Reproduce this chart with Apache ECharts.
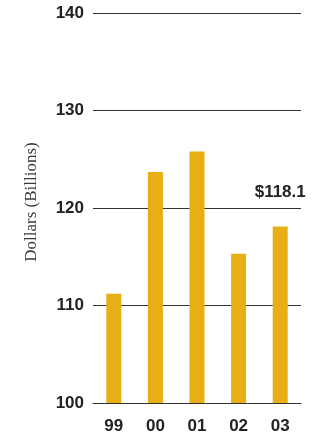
<!DOCTYPE html>
<html>
<head>
<meta charset="utf-8">
<script src="https://cdn.jsdelivr.net/npm/echarts@6/dist/echarts.min.js"></script>
<style>
  html, body { margin: 0; padding: 0; background: #fff; }
  #chart { width: 326px; height: 433px; }
</style>
</head>
<body>
<div id="chart"></div>
<script>
// Annual totals, in billions of dollars
const years = ['99', '00', '01', '02', '03'];
const totals = [111.2, 123.7, 125.8, 115.3, 118.1];
const yTicks = [100, 110, 120, 130, 140];
const yTitle = 'Dollars (Billions)';

const gold = '#E8AF14';
const ink = '#222222';
const numFont = '"Liberation Sans", Arial, Helvetica, sans-serif';

const chart = echarts.init(document.getElementById('chart'), null, { renderer: 'canvas' });

chart.setOption({
  animation: false,
  backgroundColor: '#ffffff',
  grid: { left: 93, right: 25, top: 13, bottom: 30, containLabel: false, outerBoundsMode: 'none' },
  xAxis: {
    type: 'category',
    data: years,
    axisLine: { show: true, lineStyle: { color: '#333', width: 1 } },
    axisTick: { show: false },
    axisLabel: {
      color: ink, fontFamily: numFont, fontWeight: 'bold', fontSize: 17, margin: 15
    }
  },
  yAxis: {
    type: 'value',
    min: yTicks[0],
    max: yTicks[yTicks.length - 1],
    interval: 10,
    name: yTitle,
    nameLocation: 'middle',
    nameRotate: 90,
    nameGap: 53,
    nameTextStyle: {
      color: '#3a3a3a', fontFamily: '"Liberation Serif", "Times New Roman", serif', fontSize: 17,
      padding: [0, 0, 0, 12]
    },
    axisLine: { show: false },
    axisTick: { show: false },
    splitLine: { show: true, lineStyle: { color: '#333', width: 1 } },
    axisLabel: {
      color: ink, fontFamily: numFont, fontWeight: 'bold', fontSize: 17, margin: 9
    }
  },
  series: [{
    type: 'bar',
    data: totals.map((v, i) => i === totals.length - 1
      ? {
          value: v,
          label: {
            show: true,
            position: 'top',
            distance: 26,
            formatter: p => '$' + p.value.toFixed(1),
            color: ink, fontFamily: numFont, fontWeight: 'bold', fontSize: 17
          }
        }
      : v),
    barWidth: 15,
    itemStyle: { color: gold },
    z: 3
  }]
});
</script>
</body>
</html>
